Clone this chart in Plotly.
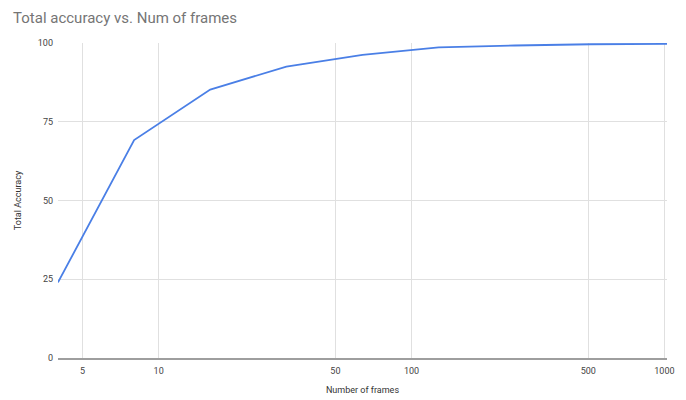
import plotly.graph_objects as go

frames = [4, 8, 16, 32, 64, 128, 256, 512, 1024]
accuracy = [24, 69.2, 85.2, 92.5, 96.2, 98.6, 99.2, 99.6, 99.7]

x_tick_vals = [5, 10, 50, 100, 500, 1000]
x_tick_text = ["5", "10", "50", "100", "500", "1000"]
y_tick_vals = [0, 25, 50, 75, 100]

fig = go.Figure()
fig.add_trace(go.Scatter(
    x=frames, y=accuracy, mode="lines",
    line=dict(color="#4a7fe6", width=1.8),
    showlegend=False,
))

fig.update_layout(
    width=686, height=400,
    margin=dict(l=58, r=19, t=43, b=42),
    paper_bgcolor="white", plot_bgcolor="white",
    font=dict(family="Roboto, Arial, sans-serif", size=9, color="#444444"),
    title=dict(text="Total accuracy vs. Num of frames", x=0.019, xanchor="left",
               y=0.955, yanchor="middle",
               font=dict(size=15, color="#757575")),
    xaxis=dict(
        type="log", range=[0.60206, 3.0103],
        tickvals=x_tick_vals, ticktext=x_tick_text,
        showgrid=True, gridcolor="#e0e0e0", gridwidth=1,
        showline=True, linecolor="#9e9e9e", linewidth=1.5,
        ticks="", zeroline=False, automargin=False,
        ticklabelstandoff=3,
        tickfont=dict(size=9, color="#444444"),
        title=dict(text="Number of frames", standoff=12,
                   font=dict(size=9, color="#333333")),
    ),
    yaxis=dict(
        range=[0, 100], tickvals=y_tick_vals,
        showgrid=True, gridcolor="#e0e0e0", gridwidth=1,
        zeroline=False, showline=False, ticks="", automargin=False,
        ticklabelstandoff=4,
        tickfont=dict(size=9, color="#444444"),
        title=dict(text="Total Accuracy", standoff=14,
                   font=dict(size=9, color="#333333")),
    ),
)

fig.write_html("out.html", config={"displayModeBar": False},
               post_script="document.body.style.margin='0px';")
